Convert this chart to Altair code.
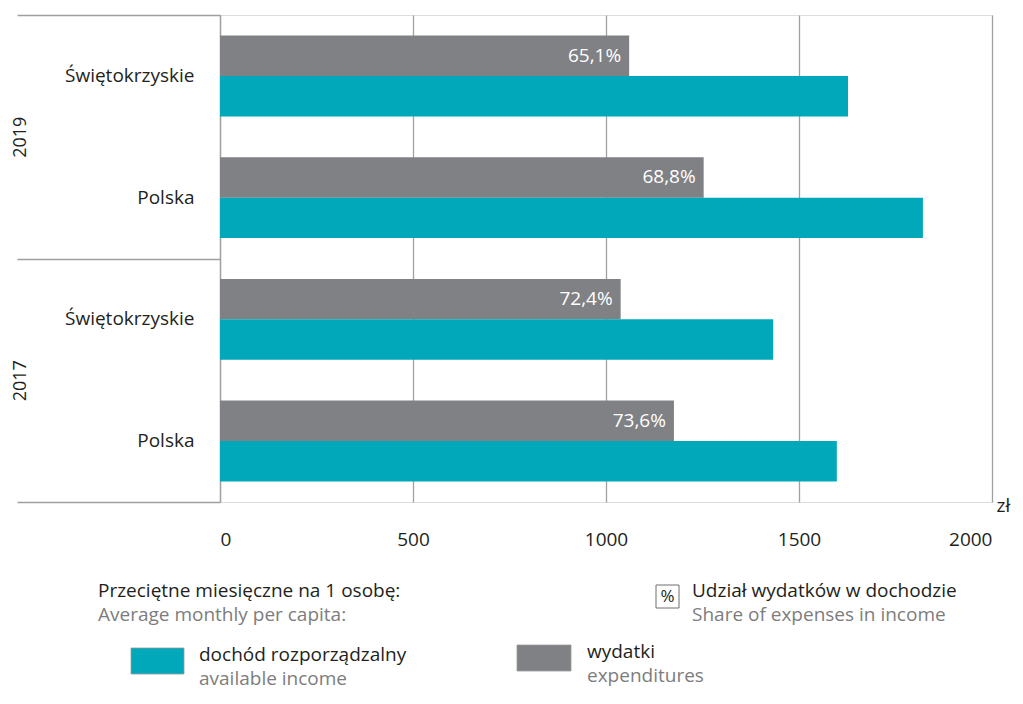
import altair as alt
import pandas as pd

# ---- data ----
regions = ["Świętokrzyskie", "Polska", "Świętokrzyskie", "Polska"]
years = ["2019", "2019", "2017", "2017"]
income = [1627, 1821, 1433, 1598]          # dochód rozporządzalny
expenditure = [1060, 1253, 1038, 1176]     # wydatki
share_labels = ["65,1%", "68,8%", "72,4%", "73,6%"]
x_ticks = [0, 500, 1000, 1500, 2000]
year_order = ["2019", "2017"]
series_names = ["wydatki", "dochód"]
series_colors = ["#808185", "#00a8ba"]

FONT = "Open Sans"
DARK = "#231f20"
SUB = "#7d7d7d"
LINE = "#a0a0a0"
FS = 19

rows = [f"{r} {y}" for r, y in zip(regions, years)]
recs = []
for row, inc, exp, lab in zip(rows, income, expenditure, share_labels):
    recs.append({"row": row, "series": "wydatki", "value": exp, "label": lab})
    recs.append({"row": row, "series": "dochód", "value": inc, "label": ""})
df = pd.DataFrame(recs)

color_scale = alt.Scale(domain=series_names, range=series_colors)

y_enc = alt.Y(
    "row:N",
    sort=rows,
    scale=alt.Scale(paddingInner=0.335, paddingOuter=0.168),
    axis=alt.Axis(
        title=None, labelExpr="split(datum.label, ' ')[0]", ticks=False, domain=False,
        labelPadding=26, labelFontSize=FS, labelFont=FONT, labelColor=DARK,
    ),
)
yoff = alt.YOffset("series:N", sort=series_names,
                   scale=alt.Scale(domain=series_names, paddingInner=0, paddingOuter=0))
x_enc = alt.X(
    "value:Q",
    scale=alt.Scale(domain=[0, 2000], nice=False),
    axis=alt.Axis(
        values=x_ticks, grid=True, gridColor=LINE, gridWidth=1.3, ticks=False, domain=False,
        labelFontSize=FS, labelFont=FONT, labelColor=DARK, labelPadding=28,
        title="zł", titleX=776, titleY=3, titleAlign="left", titleBaseline="middle",
        titleFontWeight="normal", titleFontSize=FS, titleFont=FONT, titleColor=DARK,
        format="d",
    ),
)

bars = alt.Chart(df).mark_bar().encode(
    x=x_enc, y=y_enc, yOffset=yoff,
    color=alt.Color("series:N", scale=color_scale, legend=None),
)
pct = alt.Chart(df).transform_filter(alt.datum.series == "wydatki").mark_text(
    align="right", baseline="middle", dx=-8, color="white", fontSize=FS, font=FONT
).encode(x="value:Q", y=alt.Y("row:N", sort=rows), yOffset=yoff, text="label:N")


def txt(s, x, y, color=DARK, size=FS, align="left", baseline="alphabetic"):
    return alt.Chart(alt.Data(values=[{}])).mark_text(
        text=s, align=align, baseline=baseline, fontSize=size, font=FONT, color=color
    ).encode(x=alt.value(x), y=alt.value(y))


def swatch(name, x, y, w, h):
    return alt.Chart(alt.Data(values=[{"series": name}])).mark_rect(
        stroke="#9a9a9a", strokeWidth=0.8
    ).encode(
        x=alt.value(x), x2=alt.value(x + w), y=alt.value(y), y2=alt.value(y + h),
        color=alt.Color("series:N", scale=color_scale, legend=None),
    )


# legend positions are relative to the plot origin (page x 220, y 15)
pct_box = alt.Chart(alt.Data(values=[{}])).mark_rect(
    fill="white", stroke="#6f6f6f", strokeWidth=1
).encode(x=alt.value(436), x2=alt.value(459), y=alt.value(570), y2=alt.value(593))

legend_layers = [
    txt("Przeciętne miesięczne na 1 osobę:", -122, 582),
    txt("Average monthly per capita:", -122, 606, color=SUB),
    pct_box,
    txt("%", 447.5, 582, size=17, align="center", baseline="middle"),
    txt("Udział wydatków w dochodzie", 472, 582),
    txt("Share of expenses in income", 472, 606, color=SUB),
    swatch("dochód", -89, 633, 53, 26),
    txt("dochód rozporządzalny", -21, 646),
    txt("available income", -21, 670, color=SUB),
    swatch("wydatki", 297, 630, 54, 26),
    txt("wydatki", 367, 643),
    txt("expenditures", 367, 667, color=SUB),
]

main = alt.layer(bars, pct, *legend_layers)

year_df = pd.DataFrame({"year": year_order})
year_layer = alt.Chart(year_df).mark_point(opacity=0).encode(
    y=alt.Y(
        "year:N", sort=year_order,
        scale=alt.Scale(paddingInner=0, paddingOuter=0),
        axis=alt.Axis(
            orient="left", title=None, tickBand="extent", tickSize=203, tickColor=LINE,
            tickWidth=1.3, domainColor=LINE, domainWidth=1.3, labelAngle=270,
            labelAlign="center", labelBaseline="middle", labelPadding=-3,
            labelFontSize=18, labelFont=FONT, labelColor=DARK,
        ),
    ),
    x=alt.value(0),
)

chart = alt.layer(main, year_layer).resolve_scale(y="independent").properties(
    width=772, height=487,
    autosize=alt.AutoSizeParams(type="none"),
    padding={"left": 212, "top": 7, "right": 22, "bottom": 189},
).configure_view(stroke=None).configure(font=FONT)

chart.save("out.html", embed_options={"renderer": "svg", "actions": False})
